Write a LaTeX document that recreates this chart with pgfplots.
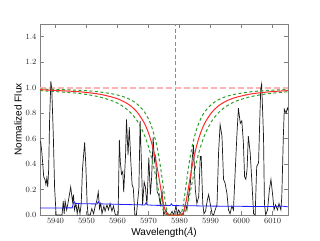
\documentclass[border=0pt]{standalone}
\usepackage{fontspec}
\setmainfont{Liberation Sans}
\newfontfamily\serifit{Liberation Serif}
\usepackage{pgfplots}
\pgfplotsset{compat=1.18}
\definecolor{spec}{HTML}{1A1A1A}
\definecolor{modred}{HTML}{FF2A2A}
\definecolor{modgreen}{HTML}{2CA02C}
\definecolor{pinkline}{HTML}{FFB3B3}
\definecolor{bluel}{HTML}{1F1FFF}
\definecolor{framec}{HTML}{808080}
\begin{document}
\begin{tikzpicture}
\path[use as bounding box] (-40pt,-25pt) rectangle (280pt,215pt);
\begin{axis}[
  scale only axis, width=248pt, height=191pt,
  xmin=5935, xmax=6015, ymin=0, ymax=1.5,
  xtick={5940,5950,...,6010}, ytick={0,0.2,...,1.4},
  yticklabel style={/pgf/number format/fixed,/pgf/number format/fixed zerofill,/pgf/number format/precision=1},
  xticklabel style={/pgf/number format/set thousands separator={}},
  tick label style={font=\fontsize{8}{9}\selectfont, color=black!85},
  tick align=inside, major tick length=4pt,
  axis line style={framec, line width=0.9pt},
  every tick/.style={framec, line width=0.6pt},
  xlabel={Wavelength({\serifit\itshape Å})}, ylabel={Normalized Flux},
  label style={font=\fontsize{10}{11}\selectfont},
  xlabel style={yshift=3pt},
  ylabel style={yshift=-3pt},
  clip=true,
]
% vertical line
\addplot[draw=black!45, dash pattern=on 4pt off 2.5pt, line width=0.5pt] coordinates {(5978.5,0) (5978.5,1.5)};
% continuum
\addplot[draw=pinkline, dash pattern=on 6pt off 3pt, line width=1.8pt] coordinates {(5935,1) (6015,1)};
% observed spectrum
\addplot[spec, line width=0.7pt] coordinates {
(5935.2,0.58) (5935.6,0.49) (5936.2,0.30) (5936.6,0.28) (5936.9,0.24) (5937.2,0.29) (5937.5,0.22) (5937.8,0.36)
(5938.1,0.75) (5938.5,1.05) (5938.8,0.99) (5939.3,0.62) (5939.7,0.22) (5940.2,0) (5942.1,0) (5942.5,0.11)
(5942.8,0.01) (5943.1,0.11) (5943.6,0.04) (5944.0,0.09) (5944.4,0.145) (5944.9,0.22) (5945.2,0.16) (5945.5,0.105)
(5945.8,0.16) (5946.1,0.04) (5946.6,0.09) (5947.0,0.01) (5947.4,0.08) (5947.9,0.01) (5948.3,0.09) (5948.7,0.36)
(5949.4,0.57) (5949.8,0.38) (5950.2,0.09) (5950.5,0) (5951.2,0) (5951.7,0.05) (5952.3,0.01) (5952.8,0.07)
(5953.3,0.11) (5953.8,0.18) (5954.2,0.05) (5954.6,0.09) (5955.0,0.01) (5955.6,0.07) (5956.0,0.03) (5956.6,0.08)
(5957.1,0.04) (5957.6,0.09) (5958.2,0.03) (5958.7,0.07) (5959.3,0) (5960.2,0) (5960.6,0.59) (5960.9,0.42)
(5961.3,0.32) (5961.7,0.34) (5962.0,0.18) (5962.6,0.47) (5962.9,0.75) (5963.4,0.47) (5963.8,0.69) (5964.3,0.42)
(5964.7,0.24) (5965.1,0.21) (5965.6,0) (5966.1,0) (5966.9,0.21) (5967.3,0.74) (5967.7,0.42) (5968.1,0.08)
(5968.6,0.26) (5969.0,0.22) (5969.5,0.08) (5970.1,0.45) (5970.6,0.16) (5971.0,0.29) (5971.5,0.61) (5971.9,0.42)
(5972.3,0.46) (5972.8,0.18) (5973.3,0.16) (5973.8,0.08) (5974.4,0.18) (5974.9,0) (5975.6,0.04) (5976.3,0)
(5977.0,0) (5977.6,0.03) (5978.1,0) (5978.9,0.07) (5979.3,0) (5979.7,0.04) (5980.8,0) (5981.3,0.01)
(5981.9,0.09) (5982.4,0.04) (5982.9,0.145) (5983.5,0.25) (5984.0,0.41) (5984.5,0.55) (5985.1,0.2) (5985.6,0.09)
(5986.2,0.145) (5986.7,0.46) (5987.0,0.46) (5987.5,0.09) (5987.9,0.01) (5988.4,0.03) (5989.0,0.12) (5989.4,0.16)
(5989.9,0.09) (5990.5,0.01) (5991.0,0) (5991.5,0.04) (5992.1,0.08) (5992.6,0.49) (5993.1,0.71) (5993.7,0.62)
(5994.2,0.28) (5994.7,0.25) (5995.3,0.17) (5995.8,0.04) (5996.3,0.01) (5996.9,0.07) (5997.4,0.04) (5998.0,0.36)
(5998.5,0.62) (5999.0,0.84) (5999.6,0.72) (6000.1,0.74) (6000.6,0.57) (6001.0,0.30) (6001.4,0.28) (6001.8,0.36)
(6002.2,0.62) (6002.8,0.49) (6003.3,0.28) (6003.9,0.01) (6004.4,0) (6004.9,0.38) (6005.5,0.41) (6005.8,0.67)
(6006.2,0.99) (6006.5,1.03) (6007.1,0.62) (6007.4,0.09) (6007.8,0) (6008.4,0.04) (6009.0,0.2) (6009.5,0.28)
(6010.1,0.145) (6010.5,0.04) (6011.0,0.08) (6011.6,0.04) (6012.1,0.09) (6012.7,0.04) (6013.0,0.145) (6013.5,0.62)
(6013.8,0.83) (6014.4,0.80) (6014.8,0.84) (6015.1,0.82)
};
% error spectrum
\addplot[bluel, line width=0.8pt] coordinates {
(5935,0.055) (5945.4,0.056) (5945.7,0.09) (5946.0,0.105) (5946.4,0.09) (5950,0.088) (5953.4,0.087) (5953.8,0.105)
(5954.2,0.088) (5960,0.084) (5965,0.081) (5968.8,0.079) (5969.2,0.095) (5969.6,0.079) (5972,0.076) (5977.0,0.074)
(5977.4,0.088) (5977.8,0.074) (5985,0.072) (5990,0.070) (6000,0.068) (6010,0.066) (6013,0.07) (6015,0.064)
};
% wide model
\addplot[modgreen, dash pattern=on 3pt off 2.5pt, line width=1.0pt, smooth] coordinates {
(5935,0.977) (5946.4,0.958) (5950.4,0.945) (5954.4,0.926) (5958.4,0.896) (5960.4,0.873) (5962.4,0.842) (5964.4,0.799)
(5966.4,0.737) (5968.4,0.644) (5969.4,0.581) (5970.4,0.503) (5971.4,0.407) (5972.4,0.295) (5972.9,0.233) (5973.4,0.172)
(5973.9,0.114) (5974.4,0.064) (5974.9,0.028) (5975.4,0.0075) (5975.9,0.001) (5976.4,0) (5978.4,0) (5980.4,0)
(5980.9,0.001) (5981.4,0.0075) (5981.9,0.028) (5982.4,0.064) (5982.9,0.114) (5983.4,0.172) (5983.9,0.233) (5984.4,0.295)
(5985.4,0.407) (5986.4,0.503) (5987.4,0.581) (5988.4,0.644) (5990.4,0.737) (5992.4,0.799) (5994.4,0.842) (5996.4,0.873)
(5998.4,0.896) (6002.4,0.926) (6006.4,0.945) (6010.4,0.958) (6015,0.968)
};
% narrow model
\addplot[modgreen, dash pattern=on 3pt off 2.5pt, line width=1.0pt, smooth] coordinates {
(5935,0.989) (5946.4,0.981) (5950.4,0.975) (5954.4,0.966) (5958.4,0.951) (5960.4,0.940) (5962.4,0.925) (5964.4,0.903)
(5966.4,0.870) (5968.4,0.819) (5969.4,0.781) (5970.4,0.732) (5971.4,0.665) (5972.4,0.574) (5972.9,0.516) (5973.4,0.449)
(5973.9,0.372) (5974.4,0.287) (5974.9,0.195) (5975.4,0.108) (5975.9,0.041) (5976.4,0.007) (5977.4,0) (5979.4,0)
(5980.4,0.007) (5980.9,0.041) (5981.4,0.108) (5981.9,0.195) (5982.4,0.287) (5982.9,0.372) (5983.4,0.449) (5983.9,0.516)
(5984.4,0.574) (5985.4,0.665) (5986.4,0.732) (5987.4,0.781) (5988.4,0.819) (5990.4,0.870) (5992.4,0.903) (5994.4,0.925)
(5996.4,0.940) (5998.4,0.951) (6002.4,0.966) (6006.4,0.975) (6010.4,0.981) (6015,0.985)
};
% best model
\addplot[modred, line width=1.0pt, smooth] coordinates {
(5935,0.984) (5946.4,0.970) (5950.4,0.961) (5954.4,0.948) (5958.4,0.925) (5960.4,0.909) (5962.4,0.886) (5964.4,0.854)
(5966.4,0.806) (5968.4,0.733) (5969.4,0.682) (5970.4,0.616) (5971.4,0.531) (5972.4,0.423) (5972.9,0.359) (5973.4,0.289)
(5973.9,0.216) (5974.4,0.144) (5974.9,0.080) (5975.4,0.032) (5975.9,0.007) (5976.4,0) (5978.4,0) (5980.4,0)
(5980.9,0.007) (5981.4,0.032) (5981.9,0.080) (5982.4,0.144) (5982.9,0.216) (5983.4,0.289) (5983.9,0.359) (5984.4,0.423)
(5985.4,0.531) (5986.4,0.616) (5987.4,0.682) (5988.4,0.733) (5990.4,0.806) (5992.4,0.854) (5994.4,0.886) (5996.4,0.909)
(5998.4,0.925) (6002.4,0.948) (6006.4,0.961) (6010.4,0.970) (6015,0.977)
};
\end{axis}
\end{tikzpicture}
\end{document}
